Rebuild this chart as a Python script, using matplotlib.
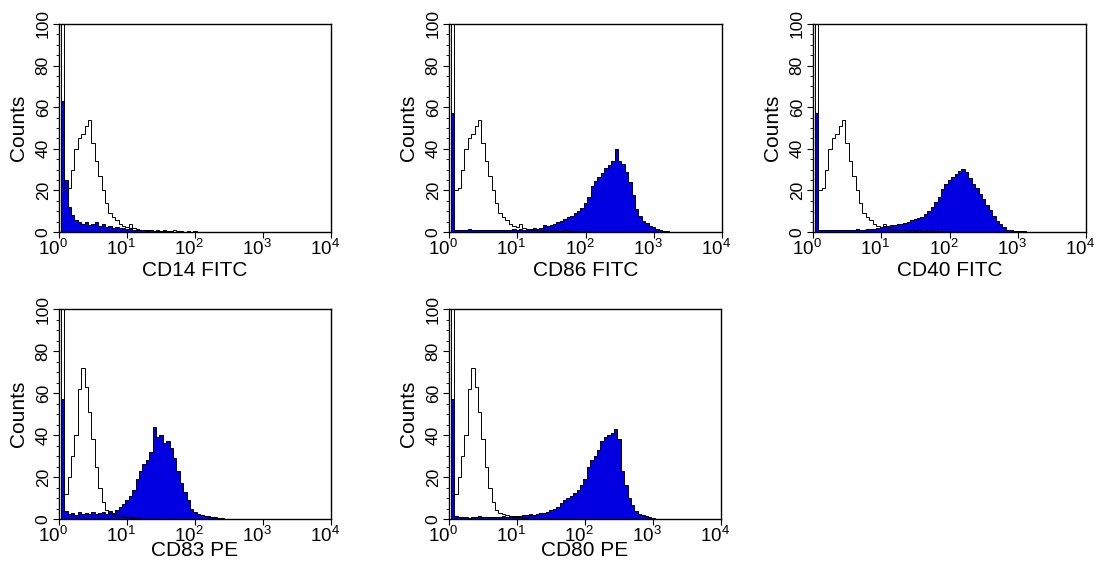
import numpy as np
import matplotlib
matplotlib.use("Agg")
import matplotlib.pyplot as plt
import matplotlib.transforms as mtransforms

plt.rcParams["font.family"] = ["Liberation Sans", "DejaVu Sans"]
plt.rcParams["mathtext.fontset"] = "custom"
plt.rcParams["mathtext.rm"] = "Liberation Sans"
plt.rcParams["mathtext.it"] = "Liberation Sans:italic"
plt.rcParams["mathtext.bf"] = "Liberation Sans:bold"

# channel grid: log10 fluorescence, one bin every 0.05 decade
LOG_CHANNEL = np.round(np.arange(70) * 0.05, 2)

# isotype control (open histogram), FITC panels
ISO_FITC = [0, 100, 20, 21, 30, 40, 45, 47, 51, 54,
            43, 34, 27, 20, 14, 9, 7, 6, 4, 3,
            2.5, 4, 2, 1.5, 1, 1.2, 0.8, 1, 0.6, 0.9,
            0.5, 1, 0.6, 0.4, 0.8, 0.3, 0.5, 0.2, 0.4, 0.2,
            0.3, 0, 0, 0, 0, 0, 0, 0, 0, 0,
            0, 0, 0, 0, 0, 0, 0, 0, 0, 0,
            0, 0, 0, 0, 0, 0, 0, 0, 0, 0]

# isotype control (open histogram), PE panels
ISO_PE = [0, 100, 12, 20, 30, 40, 62, 72, 63, 51,
          38, 25, 15, 8, 4.5, 3, 2.5, 2, 1.5, 1.2,
          1, 0.8, 0.5, 0.3, 0, 0, 0, 0, 0, 0,
          0, 0, 0, 0, 0, 0, 0, 0, 0, 0,
          0, 0, 0, 0, 0, 0, 0, 0, 0, 0,
          0, 0, 0, 0, 0, 0, 0, 0, 0, 0,
          0, 0, 0, 0, 0, 0, 0, 0, 0, 0]

CD14 = [0, 63, 25, 12, 8, 6, 5, 4, 5, 3.5,
        4, 5, 3, 4, 2.5, 3, 2, 2.5, 1.8, 2,
        1.5, 1.8, 1.2, 1, 1.2, 0.8, 0.6, 0.8, 0.5, 0.6,
        0.3, 0.5, 0.2, 0.3, 0.1, 0, 0, 0, 0, 0,
        0, 0, 0, 0, 0, 0, 0, 0, 0, 0,
        0, 0, 0, 0, 0, 0, 0, 0, 0, 0,
        0, 0, 0, 0, 0, 0, 0, 0, 0, 0]

CD86 = [0, 57, 1, 1.2, 0.8, 1, 1.3, 0.8, 1, 1.2,
        0.9, 1, 0.8, 1.1, 0.9, 1, 1.2, 0.9, 1, 1.3,
        1.1, 1.4, 1.2, 1.5, 1.3, 1.8, 1.5, 2, 3.2, 2.8,
        3.5, 4, 4.8, 5.5, 6.2, 7, 7.5, 9, 10, 11.5,
        14, 17, 22, 24.5, 26.5, 28.5, 31, 32, 34, 40,
        34, 32.5, 29, 24, 18, 11, 7.5, 5.5, 4.5, 3,
        2.4, 1.6, 1.2, 0.7, 0.5, 0.2, 0, 0, 0, 0]

CD40 = [0, 57, 1, 1.2, 0.9, 1, 1.1, 0.8, 1, 1.2,
        0.9, 1.1, 1, 1.3, 1, 1.2, 1.4, 1.3, 1.6, 2,
        2.6, 2.8, 3, 3.4, 3.2, 3.8, 3.8, 4.5, 5, 5.8,
        6.2, 6.8, 7.4, 8.5, 10, 12, 14.5, 17, 20.5, 23,
        25, 26.5, 28, 29.5, 30.5, 29, 26, 23, 21, 18.5,
        16, 13, 10.5, 7.5, 5.5, 4, 2.5, 1.2, 0.8, 0.6,
        0.5, 0.6, 0.4, 0.2, 0, 0, 0, 0, 0, 0]

CD83 = [0, 57, 4, 2.5, 3, 2, 3.5, 2.5, 3, 2.2,
        3.5, 2.5, 3, 3.5, 2.5, 4, 3, 4.5, 5.5, 7,
        9, 11, 14, 19, 23, 26, 28, 32, 44, 39,
        40, 36, 37, 34, 29, 23, 17, 13, 9, 5,
        3.2, 2.2, 1.8, 1.5, 1.3, 1, 0.9, 0.7, 0.5, 0.2,
        0, 0, 0, 0, 0, 0, 0, 0, 0, 0,
        0, 0, 0, 0, 0, 0, 0, 0, 0, 0]

CD80 = [0, 57, 1.2, 0.8, 1, 1.1, 0.7, 1, 0.9, 1.2,
        0.8, 1, 0.9, 1.1, 0.8, 1, 1.2, 1, 1.3, 1.1,
        1.4, 1.6, 1.8, 2, 2.2, 2, 2.4, 2.8, 3, 3.5,
        4.2, 5, 5.8, 7.5, 9, 10, 10.8, 12.5, 14, 16,
        19, 25, 28, 30, 33, 37, 39, 40, 41, 43,
        38, 23, 16, 10, 6.5, 4, 2.5, 1.8, 1.2, 0.9,
        0.5, 0.2, 0, 0, 0, 0, 0, 0, 0, 0]

PANELS = [("CD14 FITC", CD14, ISO_FITC),
          ("CD86 FITC", CD86, ISO_FITC),
          ("CD40 FITC", CD40, ISO_FITC),
          ("CD83 PE", CD83, ISO_PE),
          ("CD80 PE", CD80, ISO_PE)]

FILL = "#0000E0"

fig = plt.figure(figsize=(11.01, 5.62), dpi=100)
W, H = 1101, 562
# axes boxes in pixels: (left, top, right, bottom)
boxes = [(59, 24, 331, 232), (449, 24, 722, 232), (813, 24, 1086, 232),
         (59, 309, 331, 519), (449, 309, 721, 519)]
label_drop = [38, 38, 38, 32, 32]

half = 0.025
edges = 10 ** np.append(LOG_CHANNEL - half, LOG_CHANNEL[-1] + half)
shift = mtransforms.ScaledTranslation(-6 / 100, 0, fig.dpi_scale_trans)

for (name, stained, iso), (l, t, r, b), drop in zip(PANELS, boxes, label_drop):
    ax = fig.add_axes([l / W, 1 - b / H, (r - l) / W, (b - t) / H])
    ax.stairs(stained, edges, fill=True, color=FILL, linewidth=0)
    ax.stairs(stained, edges, color="black", linewidth=0.7)
    ax.stairs(iso, edges, color="black", linewidth=0.7)
    ax.set_xscale("log")
    ax.set_xlim(1, 1e4)
    ax.set_ylim(0, 100)
    ax.set_yticks([0, 20, 40, 60, 80, 100])
    ax.set_yticks(np.arange(0, 101, 5), minor=True)
    ax.set_xticks([1, 10, 100, 1000, 10000])
    ax.tick_params(axis="y", which="major", labelrotation=90, labelsize=12.5,
                   length=4, width=0.8, pad=2)
    ax.tick_params(axis="y", which="minor", length=2, width=0.6)
    ax.tick_params(axis="x", which="major", labelsize=13.5, length=4, width=0.8, pad=1)
    ax.tick_params(axis="x", which="minor", length=2.5, width=0.6)
    for lab in ax.get_yticklabels():
        lab.set_verticalalignment("center")
    for lab in ax.get_xticklabels():
        lab.set_transform(lab.get_transform() + shift)
    for s in ax.spines.values():
        s.set_linewidth(1.0)
    ax.set_ylabel("Counts", fontsize=15)
    ax.yaxis.set_label_coords(-31 / (r - l), 0.5)
    ax.set_xlabel(name, fontsize=15, va="center")
    ax.xaxis.set_label_coords(0.5, -drop / (b - t))

fig.savefig("out.png", dpi=100)
